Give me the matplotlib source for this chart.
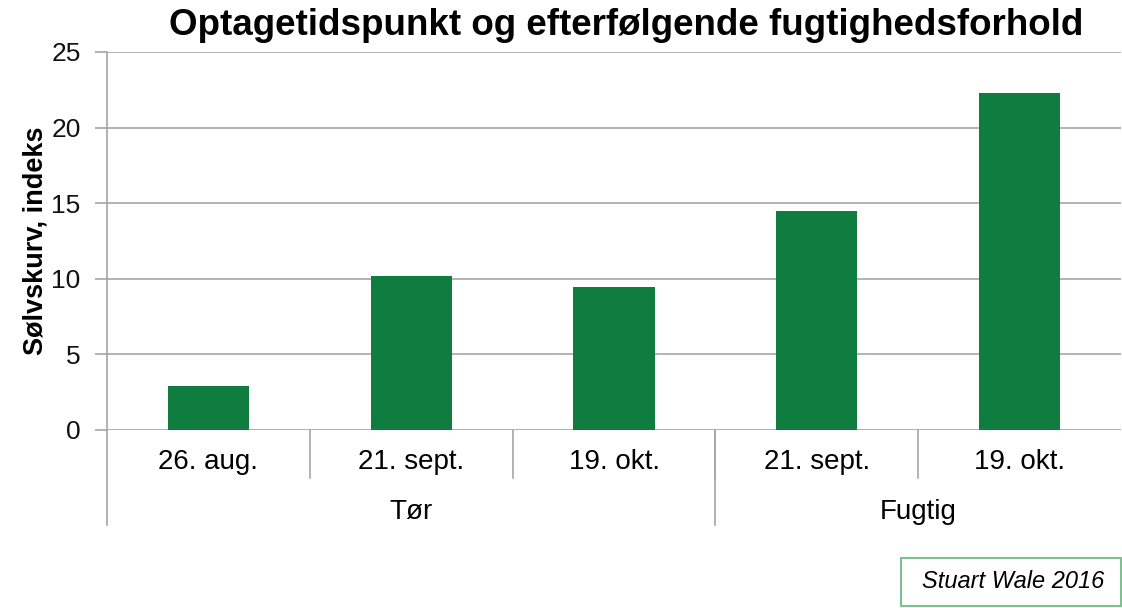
import matplotlib.pyplot as plt
from matplotlib.patches import Rectangle

plt.rcParams['font.family'] = ['Liberation Sans', 'DejaVu Sans']

dates = ['26. aug.', '21. sept.', '19. okt.', '21. sept.', '19. okt.']
groups = ['Tør', 'Fugtig']
group_sizes = [3, 2]
values = [2.9, 10.2, 9.45, 14.5, 22.3]

green = '#0f7c40'
gray = '#a6a6a6'

fig = plt.figure(figsize=(11.22, 6.08), dpi=100)
ax = fig.add_axes([0.0954, 0.2928, 0.9037, 0.6217])

x = list(range(len(dates)))
ax.bar(x, values, width=0.4, color=green, zorder=3)

ax.set_xlim(-0.5, len(dates) - 0.5)
ax.set_ylim(0, 25)
ax.set_yticks(range(0, 26, 5))
ax.yaxis.grid(True, color=gray, linewidth=1.2)
ax.set_axisbelow(True)
for s in ['top', 'right', 'bottom']:
    ax.spines[s].set_visible(False)
ax.spines['left'].set_color(gray)
ax.spines['left'].set_linewidth(1.2)
ax.tick_params(axis='y', colors=gray, length=9, width=1.2, labelsize=19,
               labelcolor='#111111', pad=10)
ax.set_xticks([])

ax.set_ylabel('Sølvskurv, indeks', fontsize=19.5, fontweight='bold',
              labelpad=2)

tr = ax.get_xaxis_transform()
# category labels and separators
for i, d in enumerate(dates):
    ax.text(i, -0.085, d, transform=tr, ha='center', va='center',
            fontsize=20)
for i in range(1, len(dates)):
    ax.plot([i - 0.5, i - 0.5], [0, -0.127], transform=tr, color=gray,
            linewidth=1.2, clip_on=False)

# group labels and separators (right edge runs off the picture)
start = 0
edges = [-0.5]
for g, n in zip(groups, group_sizes):
    ax.text(start + (n - 1) / 2, -0.217, g, transform=tr, ha='center',
            va='center', fontsize=20)
    start += n
    edges.append(start - 0.5)
for e in edges[:-1]:
    ax.plot([e, e], [0, -0.251], transform=tr, color=gray, linewidth=1.2,
            clip_on=False)

fig.text(0.558, 0.958, 'Optagetidspunkt og efterfølgende fugtighedsforhold',
         ha='center', va='center', fontsize=26.5, fontweight='bold')

fig.patches.append(Rectangle((0.803, 0.004), 0.196, 0.078,
                             transform=fig.transFigure, fill=False,
                             edgecolor='#7fbf94', linewidth=1.5))
fig.text(0.903, 0.044, 'Stuart Wale 2016', ha='center', va='center',
         fontsize=17, style='italic')

fig.savefig('out.png', dpi=100)
